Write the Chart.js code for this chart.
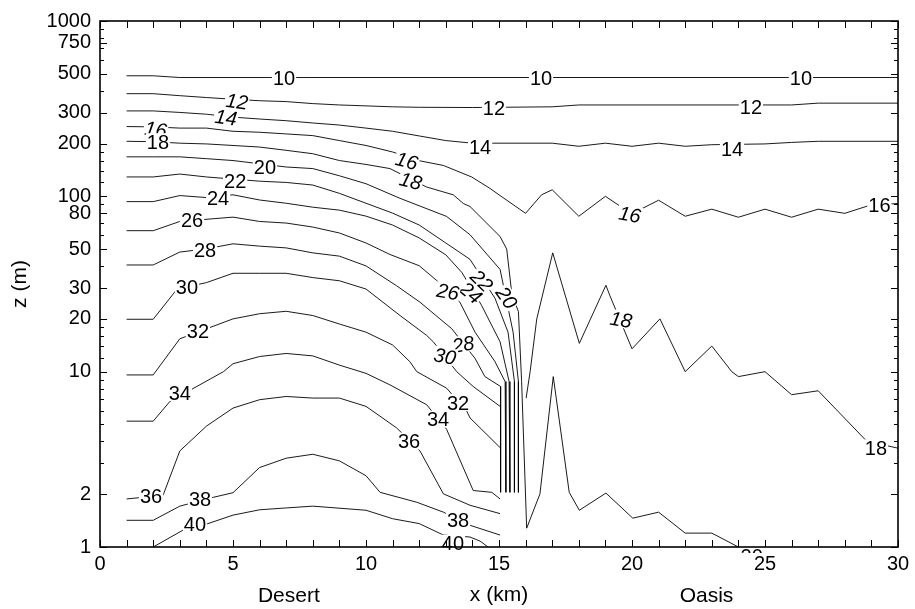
<html>
<head>
<script src="https://cdn.jsdelivr.net/npm/chart.js"></script>
<style>
  body { margin: 0; background: #ffffff; }
</style>
</head>
<body>
<canvas id="myChart" width="915" height="609"></canvas>
<script>
// contour lines, x in km, z in m
var c10x = [1, 2, 3, 30];
var c10z = [487, 487, 476, 476];

var c12x = [1, 2, 3, 4, 5, 6, 7, 8, 9, 10, 11, 12, 14, 17, 18, 26, 27, 30];
var c12z = [385, 385, 375, 366, 358, 351, 347, 338, 332, 328, 324, 322, 321, 324, 332, 332, 340, 340];

var c14x = [1, 2, 3, 4, 5, 6, 7, 8, 9, 10, 11, 12, 13, 14, 17, 18, 19, 20, 21, 22, 23, 24, 25, 26, 27, 30];
var c14z = [307, 307, 301, 294, 283, 276, 270, 262, 255, 245, 235, 221, 208, 201, 201, 193, 201, 193, 201, 193, 197, 198, 199, 203, 206, 206];

var c16x = [1, 2, 3, 4, 5, 6, 7, 8, 9, 10, 11, 11.97, 12.91, 13.97, 14.66, 15.0, 16.0, 16.6, 17.0, 18.0, 19.0, 19.55, 20.3, 21, 22, 23, 24, 25, 26, 27, 28, 28.95, 30];
var c16z = [250, 249, 245, 245, 235, 232, 227, 222, 208, 195, 179, 160, 150, 129, 111, 102, 80, 102, 109, 77, 100, 88, 84, 95, 77, 84.5, 76, 84.5, 76, 84.5, 80, 89, 91];

var c18x = [1, 2, 3, 4, 5, 6, 7, 8, 9, 10, 10.9, 12.28, 13.28, 13.66, 13.91, 15.04, 15.29, 15.48, 15.73, 15.85];
var c18z = [206, 205, 201, 199, 195, 191, 183, 175, 160, 152, 144, 113, 102, 91, 87.5, 59, 50, 28, 22, 8.8];

var c18rx = [16.02, 16.17, 16.42, 17.02, 18.02, 19.02, 19.17, 20.0, 21.05, 22.0, 23.0, 23.75, 24.0, 25, 26, 27, 28.82, 30];
var c18rz = [7.07, 10, 20, 47.6, 14.5, 31.1, 27.1, 13.5, 20, 10, 14, 10, 9.37, 10, 7.39, 7.78, 4.02, 3.66];

var c20x = [1, 2, 3, 4, 5, 7, 8, 9, 10, 11.28, 13.03, 13.91, 15.04, 15.53, 15.73, 15.73];
var c20z = [168, 168, 168, 164, 160, 147, 144, 131, 118, 97.4, 76.8, 60.4, 38.3, 16.8, 8.78, 2.05];

var c20ox = [15.85, 16.04, 16.54, 17.04, 17.64, 18.02, 19.02, 20.03, 21.0, 22.0, 23.0, 24.0];
var c20oz = [8.8, 1.28, 2.01, 9.37, 2.05, 1.62, 2.03, 1.46, 1.58, 1.20, 1.20, 1.0];

var c22x = [1, 2, 3, 4, 6, 7, 8, 9, 10, 11, 12, 13, 13.91, 14.85, 15.34, 15.58, 15.58];
var c22z = [129, 129, 134, 129, 122, 120, 116, 104, 91.3, 80.2, 68.6, 54.2, 43.7, 26.2, 16.8, 8.78, 2.05];

var c24x = [1, 2, 3, 4, 5, 6, 7, 8, 9, 10, 11, 12, 13, 13.61, 14.35, 15.04, 15.38, 15.41];
var c24z = [93.3, 93.3, 101, 98.4, 102, 95.3, 91.3, 86.7, 83.4, 77.1, 68.6, 57.9, 46.4, 36.7, 23.8, 14.8, 8.78, 2.05];

var c26x = [1, 2, 3, 5, 6, 7, 8, 9, 10, 10.9, 12, 12.66, 13.53, 14.1, 14.85, 15.23, 15.26];
var c26z = [63.7, 63.7, 71.9, 76.1, 71.9, 70.4, 66.8, 61.8, 54.2, 46.6, 40.2, 33.1, 24.9, 16.8, 11.4, 8.78, 2.05];

var c28x = [1, 2, 3, 4, 5, 6, 7, 8, 9, 10, 11.15, 12.03, 12.78, 13.22, 14.1, 14.47, 15.06, 15.06];
var c28z = [40.6, 40.6, 48.1, 50.2, 53.6, 52, 50.8, 47.6, 45.6, 40.1, 30.9, 24.9, 20, 17.6, 11.9, 9.37, 8.23, 2.05];

var c30x = [1, 2, 2.9, 4, 5, 6, 7, 8, 9, 10, 11.28, 12.28, 12.53, 13.41, 14.03, 15.04];
var c30z = [19.9, 19.9, 29.6, 32.2, 36.4, 36.4, 36.4, 34.4, 33, 29.6, 20.9, 16.1, 14.8, 10, 8.23, 6.34];

var c32x = [1, 2, 3, 5, 6, 7, 8, 9, 10, 11, 11.65, 11.91, 13.03, 13.79, 13.91, 15.04];
var c32z = [9.58, 9.58, 15.4, 20, 21.4, 22.1, 20.9, 18.7, 16.8, 14.2, 11.4, 10, 8.05, 5.94, 5.45, 3.69];

var c34x = [1, 2, 2.63, 4.64, 5, 6, 7, 8, 9, 10, 10.9, 12.28, 13.03, 14.03, 14.73, 15.04];
var c34z = [5.22, 5.22, 6.77, 10, 11.1, 12.2, 12.7, 12.3, 10.9, 9.78, 8.41, 6.48, 4.69, 2.1, 2.05, 1.88];

var c36x = [1, 2.37, 3, 4, 5, 6, 7, 8, 9, 10, 11.15, 12.03, 12.91, 13.91, 15.04];
var c36z = [1.88, 1.97, 3.53, 4.89, 6.2, 6.92, 7.22, 7.07, 7.07, 6.34, 4.78, 3.53, 2.01, 1.73, 1.55];

var c38x = [1, 2, 3, 4.26, 5, 6, 7, 8, 9, 10, 10.53, 11.91, 12.91, 13.91, 15.04];
var c38z = [1.42, 1.42, 1.71, 1.92, 2.04, 2.84, 3.21, 3.38, 3.1, 2.55, 2.05, 1.8, 1.58, 1.33, 1.17];

var c40x = [2, 3.13, 4, 5, 6, 7, 8, 10, 11, 12, 12.91, 13.91, 14.29, 14.59];
var c40z = [1.0, 1.25, 1.35, 1.52, 1.63, 1.67, 1.71, 1.62, 1.45, 1.36, 1.17, 1.14, 1.08, 1.0];

// inline contour labels
var labelText = ['10', '10', '10', '12', '12', '12', '14', '14', '14',
    '16', '16', '16', '16', '18', '18', '18', '18', '20', '20', '20',
    '22', '22', '24', '24', '26', '26', '28', '28', '30', '30',
    '32', '32', '34', '34', '36', '36', '38', '38', '40', '40'];
var labelX = [6.92, 16.58, 26.35, 5.15, 14.81, 24.47, 4.74, 14.29, 23.76,
    2.1, 11.54, 19.92, 29.3, 2.18, 11.69, 19.59, 29.17, 6.2, 15.3, 24.5,
    5.08, 14.36, 4.44, 13.95, 3.46, 13.08, 3.95, 13.65, 3.27, 12.97,
    3.68, 13.46, 3.0, 12.71, 1.92, 11.62, 3.76, 13.46, 3.57, 13.27];
var labelZ = [476, 476, 476, 349, 318, 322, 283, 192, 187,
    242, 160, 79.1, 89, 205, 123, 19.9, 3.67, 148, 26.5, 0.89,
    123, 33.1, 98.7, 28.3, 73.1, 28.7, 49.5, 14.4, 30.6, 12.3,
    17.1, 6.68, 7.61, 5.36, 1.97, 4.02, 1.89, 1.42, 1.35, 1.05];
var labelTilt = [0, 0, 0, 8, 0, 0, 8, 0, 0,
    8, 15, 10, 0, 0, 15, 10, 0, 0, 55, 0,
    0, 45, 0, 40, 0, 10, 0, -10, 0, 10,
    0, 0, 0, 0, 0, 0, 0, 0, 0, 0];

var yTicks = [1, 2, 10, 20, 30, 50, 80, 100, 200, 300, 500, 750, 1000];
var yMinorTicks = [3, 4, 5, 6, 7, 8, 9, 12, 14, 16, 18, 40, 60, 70, 90, 120, 140, 160, 180, 400, 600, 700, 800, 900];

var FONT = '"Liberation Sans", Arial, sans-serif';

function toPoints(xs, zs) {
    var pts = [];
    for (var i = 0; i < xs.length; i++) {
        pts.push({ x: xs[i], y: zs[i] });
    }
    return pts;
}

var lines = [
    [c10x, c10z], [c12x, c12z], [c14x, c14z], [c16x, c16z], [c18x, c18z], [c18rx, c18rz],
    [c20x, c20z], [c20ox, c20oz], [c22x, c22z], [c24x, c24z], [c26x, c26z], [c28x, c28z],
    [c30x, c30z], [c32x, c32z], [c34x, c34z], [c36x, c36z], [c38x, c38z], [c40x, c40z]
];

var datasets = lines.map(function (l) {
    return {
        data: toPoints(l[0], l[1]),
        borderColor: '#000',
        borderWidth: 0.9,
        pointRadius: 0,
        fill: false,
        tension: 0
    };
});

var contourPlugin = {
    id: 'contourPlugin',
    afterDatasetsDraw: function (chart) {
        var ctx = chart.ctx, xs = chart.scales.x, ys = chart.scales.y, a = chart.chartArea;
        ctx.save();
        ctx.beginPath();
        ctx.rect(a.left, a.top, a.right - a.left, a.bottom - a.top + 6);
        ctx.clip();
        for (var i = 0; i < labelText.length; i++) {
            var px = xs.getPixelForValue(labelX[i]);
            var py = ys.getPixelForValue(labelZ[i]);
            var tilt = labelTilt[i];
            ctx.save();
            ctx.translate(px, py);
            ctx.rotate(tilt * Math.PI / 180);
            ctx.font = (tilt ? 'italic ' : '') + '20px ' + FONT;
            var w = ctx.measureText(labelText[i]).width;
            ctx.fillStyle = '#fff';
            ctx.fillRect(-w / 2 - 1, -8.5, w + 2, 17);
            ctx.fillStyle = '#000';
            ctx.textAlign = 'center';
            ctx.textBaseline = 'alphabetic';
            ctx.fillText(labelText[i], 0, 7.2);
            ctx.restore();
        }
        ctx.restore();
    },
    afterDraw: function (chart) {
        var ctx = chart.ctx, xs = chart.scales.x, ys = chart.scales.y, a = chart.chartArea;
        ctx.save();
        ctx.strokeStyle = '#000';
        // inward tick marks
        ctx.lineWidth = 1;
        ctx.beginPath();
        for (var k = 0; k <= 30; k++) {
            var px = Math.round(xs.getPixelForValue(k)) + 0.5;
            ctx.moveTo(px, a.bottom); ctx.lineTo(px, a.bottom - 7);
            ctx.moveTo(px, a.top); ctx.lineTo(px, a.top + 7);
        }
        yTicks.forEach(function (v) {
            var py = Math.round(ys.getPixelForValue(v)) + 0.5;
            ctx.moveTo(a.left, py); ctx.lineTo(a.left + 7, py);
            ctx.moveTo(a.right, py); ctx.lineTo(a.right - 7, py);
        });
        yMinorTicks.forEach(function (v) {
            var py = Math.round(ys.getPixelForValue(v)) + 0.5;
            ctx.moveTo(a.left, py); ctx.lineTo(a.left + 4, py);
            ctx.moveTo(a.right, py); ctx.lineTo(a.right - 4, py);
        });
        ctx.stroke();
        // frame
        ctx.lineWidth = 1.6;
        ctx.strokeRect(a.left, a.top, a.right - a.left, a.bottom - a.top);
        // region names under the x axis
        ctx.fillStyle = '#000';
        ctx.font = '21px ' + FONT;
        ctx.textAlign = 'center';
        ctx.textBaseline = 'alphabetic';
        ctx.fillText('Desert', xs.getPixelForValue(7.1), 602);
        ctx.fillText('Oasis', xs.getPixelForValue(22.8), 602);
        ctx.restore();
    }
};

Chart.defaults.color = '#000';
Chart.defaults.font.family = FONT;

var chart = new Chart(document.getElementById('myChart').getContext('2d'), {
    type: 'line',
    data: { datasets: datasets },
    options: {
        responsive: false,
        animation: false,
        devicePixelRatio: 1,
        layout: { padding: { top: 16, right: 17, left: 0, bottom: 0 } },
        plugins: { legend: { display: false }, tooltip: { enabled: false } },
        scales: {
            x: {
                type: 'linear',
                min: 0,
                max: 30,
                grid: { display: false, drawTicks: false },
                border: { display: false },
                ticks: { stepSize: 5, autoSkip: false, padding: 5, font: { size: 20 } },
                title: { display: true, text: 'x (km)', font: { size: 21 }, padding: { top: 0, bottom: 1 } },
                afterFit: function (s) { s.height = 62; }
            },
            y: {
                type: 'logarithmic',
                min: 1,
                max: 1000,
                grid: { display: false, drawTicks: false },
                border: { display: false },
                afterBuildTicks: function (s) {
                    s.ticks = yTicks.map(function (v) { return { value: v }; });
                },
                ticks: {
                    autoSkip: false,
                    padding: 9,
                    font: { size: 20 },
                    callback: function (v) { return String(v); }
                },
                title: { display: true, text: 'z (m)', font: { size: 21 }, padding: { top: 8, bottom: 0 } },
                afterFit: function (s) { s.width = 100; }
            }
        }
    },
    plugins: [contourPlugin]
});
</script>
</body>
</html>
